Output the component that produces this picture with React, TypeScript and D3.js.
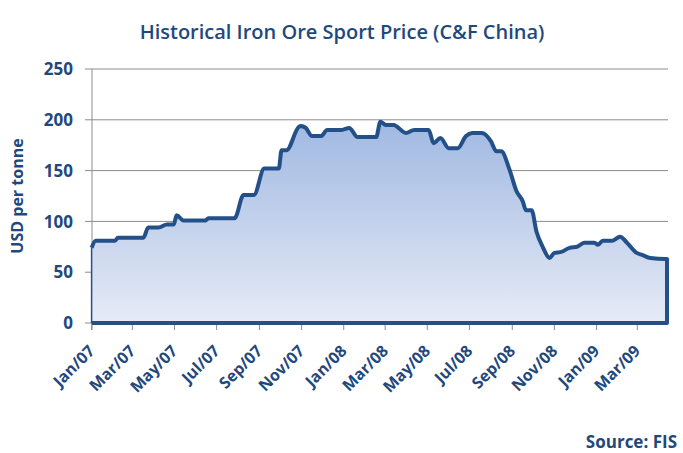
import * as d3 from "d3";
import * as React from "react";

// weekly-ish readings of the price, USD per tonne
const dates = [
  "2007-01-01", "2007-01-07", "2007-02-04", "2007-02-08", "2007-03-17", "2007-03-24",
  "2007-04-08", "2007-04-20", "2007-04-30", "2007-05-04", "2007-05-14", "2007-06-15",
  "2007-06-19", "2007-07-27", "2007-08-09", "2007-08-24", "2007-09-08", "2007-09-29",
  "2007-10-03", "2007-10-10", "2007-10-28", "2007-10-31", "2007-11-07", "2007-11-16",
  "2007-11-29", "2007-12-08", "2007-12-29", "2008-01-09", "2008-01-21", "2008-02-17",
  "2008-02-23", "2008-03-02", "2008-03-13", "2008-03-31", "2008-04-12", "2008-05-03",
  "2008-05-10", "2008-05-20", "2008-06-01", "2008-06-14", "2008-06-26", "2008-07-05",
  "2008-07-19", "2008-08-01", "2008-08-09", "2008-08-16", "2008-08-28", "2008-09-07",
  "2008-09-16", "2008-09-21", "2008-09-29", "2008-10-06", "2008-10-15", "2008-10-25",
  "2008-11-01", "2008-11-11", "2008-11-23", "2008-12-04", "2008-12-14", "2008-12-29",
  "2009-01-03", "2009-01-10", "2009-01-24", "2009-02-04", "2009-02-14", "2009-02-28",
  "2009-03-08", "2009-03-20", "2009-04-11", "2009-04-13",
];
const prices = [
  74, 81, 81, 84, 84, 94,
  94, 97, 97, 106, 101, 101,
  103, 103, 126, 126, 152, 152,
  170, 170, 193, 194, 192, 184,
  184, 190, 190, 192, 183, 183,
  198, 195, 195, 187, 190, 190,
  177, 182, 172, 172, 184, 187,
  187, 179, 169, 169, 151, 130,
  120, 111, 111, 90, 75, 64,
  69, 70, 74, 75, 79, 79,
  77, 81, 81, 85, 79, 69,
  67, 64, 63, 63,
];
const yTicks = [0, 50, 100, 150, 200, 250];

const W = 683;
const H = 453;
const plot = { left: 92, right: 668, top: 69, bottom: 323 };
const textColor = "#1f497d";
const lineColor = "#24508a";
const font = "'Open Sans', sans-serif";

export default function App() {
  const parse = d3.timeParse("%Y-%m-%d");
  const data = dates.map((d, i) => ({ date: parse(d) as Date, value: prices[i] }));

  const x = d3
    .scaleTime()
    .domain([new Date(2007, 0, 1), new Date(2009, 2, 1)])
    .range([91.6, 637.3]);
  const y = d3.scaleLinear().domain([0, 250]).range([plot.bottom, plot.top]);

  const xTicks = d3.timeMonth.every(2)!.range(new Date(2007, 0, 1), new Date(2009, 3, 1));
  const fmt = d3.timeFormat("%b/%y");

  const area = d3
    .area<{ date: Date; value: number }>()
    .x((d) => x(d.date))
    .y0(y(0))
    .y1((d) => y(d.value))
    .curve(d3.curveMonotoneX);
  const line = d3
    .line<{ date: Date; value: number }>()
    .x((d) => x(d.date))
    .y((d) => y(d.value))
    .curve(d3.curveMonotoneX);

  const last = data[data.length - 1];
  const first = data[0];
  const outline =
    (line(data) as string) +
    `L${x(last.date)},${y(0)}L${x(first.date)},${y(0)}`;

  return (
    <svg
      width={W}
      height={H}
      style={{ position: "absolute", left: 0, top: 0, background: "#fff" }}
      fontFamily={font}
    >
      <defs>
        <linearGradient id="fillGrad" gradientUnits="userSpaceOnUse" x1={0} y1={plot.top} x2={0} y2={plot.bottom}>
          <stop offset="0%" stopColor="#8eabdd" />
          <stop offset="100%" stopColor="#e6ebf6" />
        </linearGradient>
      </defs>

      <text x={342} y={39} textAnchor="middle" fontSize={20} fontWeight={600} fill={textColor}>
        Historical Iron Ore Sport Price (C&amp;F China)
      </text>

      {/* grid lines + y ticks */}
      {yTicks.map((t) => (
        <g key={t}>
          {t > 0 && (
            <line x1={85} x2={plot.right} y1={y(t)} y2={y(t)} stroke="#8c8c8c" strokeWidth={1} />
          )}
          {t === 0 && <line x1={85} x2={92} y1={y(t)} y2={y(t)} stroke="#8c8c8c" />}
          <text
            x={73}
            y={y(t)}
            dy="0.36em"
            textAnchor="end"
            fontSize={17}
            fontWeight={700}
            fill={textColor}
          >
            {t}
          </text>
        </g>
      ))}
      <line x1={plot.left} x2={plot.left} y1={plot.top} y2={330} stroke="#8c8c8c" />

      <text
        transform={`translate(23,196) rotate(-90)`}
        textAnchor="middle"
        fontSize={16}
        fontWeight={700}
        fill={textColor}
      >
        USD per tonne
      </text>

      {/* area */}
      <path d={area(data) as string} fill="url(#fillGrad)" />
      <path d={outline} fill="none" stroke={lineColor} strokeWidth={4} strokeLinejoin="round" />
      <line
        x1={x(first.date)}
        x2={x(first.date)}
        y1={y(first.value)}
        y2={y(0)}
        stroke={lineColor}
        strokeWidth={1.5}
      />

      {/* x ticks */}
      {xTicks.map((d) => (
        <g key={d.getTime()}>
          <line x1={x(d)} x2={x(d)} y1={plot.bottom + 2} y2={330} stroke="#8c8c8c" />
          <text
            transform={`translate(${x(d) + 4},${352}) rotate(-45)`}
            textAnchor="end"
            fontSize={16}
            fontWeight={700}
            fill={textColor}
          >
            {fmt(d)}
          </text>
        </g>
      ))}

      <text x={677} y={448} textAnchor="end" fontSize={17} fontWeight={700} fill={textColor}>
        Source: FIS
      </text>
    </svg>
  );
}
